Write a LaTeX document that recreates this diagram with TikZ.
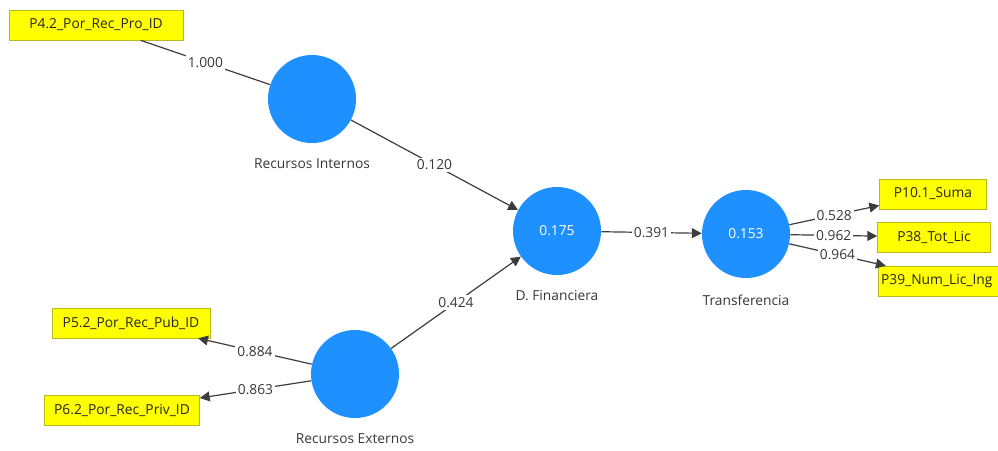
\documentclass[tikz,border=0pt]{standalone}
\usepackage{fontspec}
\setmainfont{Open Sans}
\usepackage{xcolor}
\definecolor{plsblue}{RGB}{30, 144, 255}
\definecolor{plsyellow}{RGB}{255, 255, 0}
\definecolor{plsolive}{RGB}{185, 185, 30}
\definecolor{plsline}{RGB}{60, 60, 60}
\definecolor{plstext}{RGB}{55, 55, 55}
\usepackage{tikz}
\usetikzlibrary{arrows.meta, positioning}

\tikzset{
  latent/.style={circle, fill=plsblue, minimum size=2.2cm, inner sep=0pt,
    text=white, font=\fontsize{9.8}{12}\selectfont},
  latname/.style={inner sep=0pt, text=plstext, font=\fontsize{9.8}{12}\selectfont},
  indicator/.style={rectangle, fill=plsyellow, draw=plsolive, minimum height=0.75cm,
    inner ysep=0pt, inner xsep=2pt, text=black!85, font=\fontsize{9.8}{12}\selectfont},
  coef/.style={fill=white, inner sep=1.5pt, text=plstext, font=\fontsize{9.8}{12}\selectfont},
  plspath/.style={draw=plsline, line width=0.85pt},
  plsarrow/.style={plspath, -{Triangle[length=7pt, width=7pt]}}
}

\begin{document}
\begin{tikzpicture}[x=0.025cm, y=-0.025cm]
  % Canvas
  \useasboundingbox (0,0) rectangle (998,450);
  \clip (0,0) rectangle (998,450);
  % Latent variables
  \node[latent] (rint) at (312,99) {};
  \node[latent] (rext) at (355,374) {};
  \node[latent] (dfin) at (557,231) {0.175};
  \node[latent] (trans) at (746,234) {0.153};
  % Latent variable names
  \node[latname, below=0.37cm of rint] (rintname) {Recursos Internos};
  \node[latname, below=0.37cm of rext] (rextname) {Recursos Externos};
  \node[latname, below=0.37cm of dfin] (dfinname) {D. Financiera};
  \node[latname, below=0.42cm of trans] (transname) {Transferencia};
  % Indicators
  \node[indicator, minimum width=4.35cm] (p42) at (96,25) {P4.2\_Por\_Rec\_Pro\_ID};
  \node[indicator, minimum width=3.95cm] (p52) at (131,323) {P5.2\_Por\_Rec\_Pub\_ID};
  \node[indicator, minimum width=3.875cm] (p62) at (122,410) {P6.2\_Por\_Rec\_Priv\_ID};
  \node[indicator, minimum width=2.675cm] (p101) at (933,194) {P10.1\_Suma};
  \node[indicator, minimum width=2.825cm] (p38) at (934,237) {P38\_Tot\_Lic};
  \node[indicator, anchor=west, text width=3.6cm, align=left] (p39) at (878,281) {P39\_Num\_Lic\_Ing};
  % Outer model
  \draw[plspath] (p42) -- node[coef] {1.000} (rint);
  \draw[plsarrow] (rext) -- node[coef] {0.884} (p52);
  \draw[plsarrow] (rext) -- node[coef] {0.863} (p62);
  \draw[plsarrow] (trans) -- node[coef] {0.528} (p101);
  \draw[plsarrow] (trans) -- node[coef] {0.962} (p38);
  \draw[plsarrow] (trans) -- node[coef] {0.964} (p39);
  % Inner model
  \draw[plsarrow] (rint) -- node[coef] {0.120} (dfin);
  \draw[plsarrow] (rext) -- node[coef] {0.424} (dfin);
  \draw[plsarrow] (dfin) -- node[coef] {0.391} (trans);
\end{tikzpicture}
\end{document}
